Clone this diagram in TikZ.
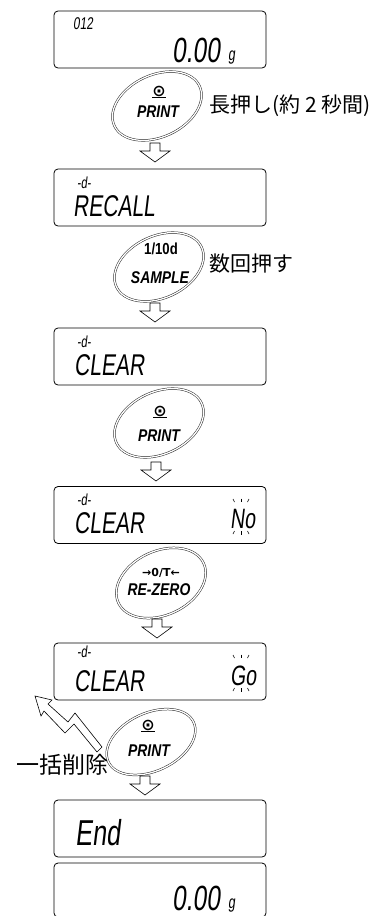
\documentclass[tikz,border=0pt]{standalone}
\usepackage{fontspec}
\usetikzlibrary{shapes.geometric}
\setmainfont{Liberation Sans}
\newfontfamily\lcdfont[FakeSlant=0.12,FakeStretch=0.7]{Liberation Sans}
\newfontfamily\keyfont[FakeStretch=0.82]{Liberation Sans}
\newfontfamily\symfont{DejaVu Sans}
\newfontfamily\jpfont{Noto Sans CJK JP}

\begin{document}
\begin{tikzpicture}[x=1pt, y=-1pt,
  lcd/.style={draw, rounded corners=4pt, line width=0.8pt,
    minimum width=212pt, minimum height=57pt, inner sep=0pt},
  seg/.style={inner sep=0pt, anchor=base west},
  segbig/.style={seg, font=\lcdfont\fontsize{35}{35}\selectfont},
  segmid/.style={seg, font=\lcdfont\fontsize{30}{30}\selectfont},
  segsmall/.style={seg, font=\lcdfont\fontsize{16}{16}\selectfont},
  key/.style={draw=black!85, ellipse, double, double distance=1.3pt,
    line width=0.5pt, minimum width=94pt, minimum height=62pt,
    rotate=25, inner sep=0pt},
  keylabel/.style={inner sep=0pt, font=\keyfont\bfseries\itshape\fontsize{17}{17}\selectfont},
  sym/.style={inner sep=0pt, font=\symfont\bfseries\fontsize{16}{16}\selectfont},
  note/.style={inner sep=0pt, anchor=west, font=\jpfont\fontsize{21}{21}\selectfont},
  blink/.style={line width=0.6pt},
  hollow/.pic={\draw[line width=0.6pt, fill=white] (-5,0) -- (5,0) -- (5,8)
    -- (15,8) -- (0,19) -- (-15,8) -- (-5,8) -- cycle;}]

  \useasboundingbox (0,0) rectangle (372,916);

  % ---- Weighing display ----
  \node[lcd] (d1) at (160,39.5) {};
  \node[segsmall, font=\lcdfont\fontsize{17}{17}\selectfont] (d1no) at (73,29) {012};
  \node[segbig] (d1val) at (172,62) {0.00};
  \node[seg, font=\lcdfont\fontsize{18}{18}\selectfont] (d1unit) at (228,60) {g};

  \node[key] (k1) at (157,106) {};
  \node[sym] (k1sym) at (159,92) {\underline{⊙}};
  \node[keylabel] (k1txt) at (158,112) {PRINT};
  \node[note] (n1) at (209,106) {長押し(約 2 秒間)};
  \pic at (155,143) {hollow};

  % ---- Recall ----
  \node[lcd] (d2) at (160,197.5) {};
  \node[segsmall] (d2d) at (77,188) {-d-};
  \node[segmid] (d2txt) at (73,216) {RECALL};

  \node[key] (k2) at (159,267) {};
  \node[keylabel, font=\keyfont\bfseries\fontsize{16}{16}\selectfont] (k2top) at (161,249) {1/10d};
  \node[keylabel] (k2txt) at (160,278) {SAMPLE};
  \node[note] (n2) at (209,264) {数回押す};
  \pic at (155,303) {hollow};

  % ---- Clear ----
  \node[lcd] (d3) at (160,356.5) {};
  \node[segsmall] (d3d) at (77,347) {-d-};
  \node[segmid] (d3txt) at (74,375) {CLEAR};

  \node[key] (k3) at (159,423) {};
  \node[sym] (k3sym) at (160,412) {\underline{⊙}};
  \node[keylabel] (k3txt) at (159,436) {PRINT};
  \pic at (156,462) {hollow};

  % ---- Clear / No ----
  \node[lcd] (d4) at (160,515) {};
  \node[segsmall] (d4d) at (77,505) {-d-};
  \node[segmid] (d4txt) at (74,533) {CLEAR};
  \node[seg, font=\lcdfont\fontsize{28}{28}\selectfont] (d4no) at (230,528) {No};

  \node[key, minimum height=64pt] (k4) at (161,583) {};
  \node[keylabel, font=\symfont\bfseries\fontsize{11}{11}\selectfont] (k4top) at (161,573) {→0/T←};
  \node[keylabel] (k4txt) at (159,590) {RE-ZERO};
  \pic at (157,619) {hollow};

  % ---- Clear / Go ----
  \node[lcd] (d5) at (160,671.5) {};
  \node[segsmall] (d5d) at (77,657) {-d-};
  \node[segmid] (d5txt) at (74,691) {CLEAR};
  \node[seg, font=\lcdfont\fontsize{28}{28}\selectfont] (d5go) at (230,685) {Go};

  % blinking marks
  \foreach \cx/\ty/\by in {241/499/531, 241/655/688} {
    \draw[blink] (\cx-8,\ty) -- (\cx-6.5,\ty+3);
    \draw[blink] (\cx,\ty-0.5) -- (\cx,\ty+3);
    \draw[blink] (\cx+8,\ty) -- (\cx+6.5,\ty+3);
    \draw[blink] (\cx-8,\by+3) -- (\cx-6.5,\by);
    \draw[blink] (\cx,\by) -- (\cx,\by+3.5);
    \draw[blink] (\cx+8,\by+3) -- (\cx+6.5,\by);
  }

  \node[key, minimum height=58pt] (k5) at (151,742) {};
  \node[sym] (k5sym) at (148,726) {\underline{⊙}};
  \node[keylabel] (k5txt) at (149,751) {PRINT};
  \node[note, font=\jpfont\fontsize{23}{23}\selectfont] (n5) at (16,765) {一括削除};

  % lightning arrow
  \draw[line width=0.6pt, fill=white] (35,696) -- (52,700) -- (48,704) -- (68,722)
    -- (75,713) -- (102,747) -- (97,752) -- (74,724) -- (65,733) -- (44,711)
    -- (41,716) -- cycle;
  \pic at (145,776) {hollow};

  % ---- End ----
  \node[lcd] (d6) at (160,828.5) {};
  \node[seg, font=\lcdfont\fontsize{36}{36}\selectfont] (d6txt) at (75,845) {End};

  \node[lcd, minimum height=54pt] (d7) at (160,890) {};
  \node[segbig] (d7val) at (172,910) {0.00};
  \node[seg, font=\lcdfont\fontsize{18}{18}\selectfont] (d7unit) at (228,908) {g};

\end{tikzpicture}
\end{document}
